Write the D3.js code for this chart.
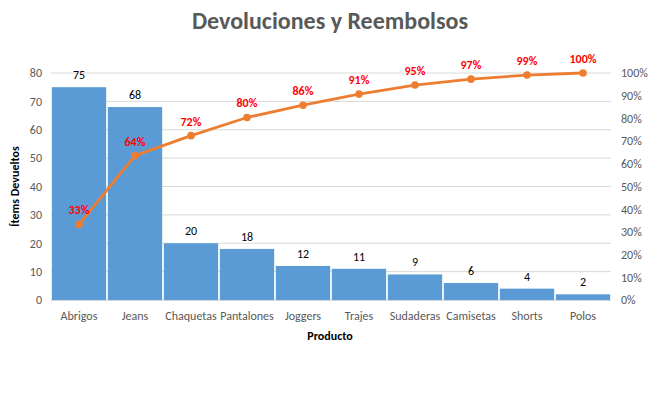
<!DOCTYPE html>
<html>
<head>
<meta charset="utf-8">
<script src="https://cdn.jsdelivr.net/npm/d3@7"></script>
<style>
  body { margin: 0; background: #fff; }
  svg { display: block; font-family: Calibri, Carlito, "Open Sans", "Liberation Sans", sans-serif; }
</style>
</head>
<body>
<div id="chart"></div>
<script>
const productos = ['Abrigos', 'Jeans', 'Chaquetas', 'Pantalones', 'Joggers', 'Trajes', 'Sudaderas', 'Camisetas', 'Shorts', 'Polos']
const devueltos = [75, 68, 20, 18, 12, 11, 9, 6, 4, 2]
const acumulado = [33.3, 63.6, 72.4, 80.4, 85.8, 90.7, 94.7, 97.3, 99.1, 100]
const leftTicks = [0, 10, 20, 30, 40, 50, 60, 70, 80]
const rightTicks = [0, 10, 20, 30, 40, 50, 60, 70, 80, 90, 100]

const width = 657
const height = 396
const margin = { top: 73, right: 46, bottom: 96, left: 51 }
const font = 'Calibri, Carlito, "Open Sans", "Liberation Sans", sans-serif'

const svg = d3.select('#chart').append('svg')
  .attr('width', width).attr('height', height)

const x = d3.scaleBand().domain(productos)
  .range([margin.left, width - margin.right]).paddingInner(0.03).paddingOuter(0.015)
const y = d3.scaleLinear().domain([0, 80]).range([height - margin.bottom, margin.top])
const y2 = d3.scaleLinear().domain([0, 100]).range([height - margin.bottom, margin.top])

// gridlines
svg.append('g').selectAll('line').data(leftTicks.slice(1)).join('line')
  .attr('x1', margin.left).attr('x2', width - margin.right)
  .attr('y1', d => y(d)).attr('y2', d => y(d))
  .attr('stroke', '#d9d9d9').attr('stroke-width', 1)

// bars
svg.append('g').selectAll('rect').data(devueltos).join('rect')
  .attr('x', (d, i) => x(productos[i]))
  .attr('y', d => y(d))
  .attr('width', x.bandwidth())
  .attr('height', d => y(0) - y(d))
  .attr('fill', '#5b9bd5')

// baseline
svg.append('line')
  .attr('x1', margin.left).attr('x2', width - margin.right)
  .attr('y1', y(0) + 0.5).attr('y2', y(0) + 0.5)
  .attr('stroke', '#d9d9d9')

// bar value labels
svg.append('g').selectAll('text').data(devueltos).join('text')
  .attr('x', (d, i) => x(productos[i]) + x.bandwidth() / 2)
  .attr('y', d => y(d) - 8)
  .attr('text-anchor', 'middle')
  .attr('fill', '#000')
  .style('font-size', '12px')
  .text(d => d)

// left axis
const yAxis = svg.append('g').attr('transform', `translate(${margin.left - 9},0)`)
  .call(d3.axisLeft(y).tickValues(leftTicks).tickSize(0).tickPadding(0))
yAxis.select('.domain').remove()
yAxis.selectAll('text').attr('fill', '#595959').style('font-size', '12px').style('font-family', font)

// right axis
const yAxis2 = svg.append('g').attr('transform', `translate(${width - margin.right + 10},0)`)
  .call(d3.axisRight(y2).tickValues(rightTicks).tickFormat(d => d + '%').tickSize(0).tickPadding(0))
yAxis2.select('.domain').remove()
yAxis2.selectAll('text').attr('fill', '#595959').style('font-size', '12px').style('font-family', font)

// x axis
const xAxis = svg.append('g').attr('transform', `translate(0,${y(0) + 11})`)
  .call(d3.axisBottom(x).tickSize(0).tickPadding(0))
xAxis.select('.domain').remove()
xAxis.selectAll('text').attr('fill', '#595959').style('font-size', '12px').style('font-family', font)

// cumulative line
const line = d3.line()
  .x((d, i) => x(productos[i]) + x.bandwidth() / 2)
  .y(d => y2(d))
svg.append('path').datum(acumulado)
  .attr('d', line)
  .attr('fill', 'none')
  .attr('stroke', '#ed7d31')
  .attr('stroke-width', 2.8)
  .attr('stroke-linejoin', 'round')

svg.append('g').selectAll('circle').data(acumulado).join('circle')
  .attr('cx', (d, i) => x(productos[i]) + x.bandwidth() / 2)
  .attr('cy', d => y2(d))
  .attr('r', 3.8)
  .attr('fill', '#ed7d31')

svg.append('g').selectAll('text').data(acumulado).join('text')
  .attr('x', (d, i) => x(productos[i]) + x.bandwidth() / 2)
  .attr('y', d => y2(d) - 10)
  .attr('text-anchor', 'middle')
  .attr('fill', '#ff0000')
  .style('font-size', '12px')
  .style('font-weight', 'bold')
  .text(d => Math.round(d) + '%')

// titles
svg.append('text').attr('x', 330).attr('y', 29)
  .attr('text-anchor', 'middle').attr('fill', '#595959')
  .style('font-size', '24px').style('font-weight', 'bold')
  .text('Devoluciones y Reembolsos')

svg.append('text').attr('x', 330).attr('y', 340)
  .attr('text-anchor', 'middle').attr('fill', '#000')
  .style('font-size', '12px').style('font-weight', 'bold')
  .text('Producto')

svg.append('text')
  .attr('transform', `translate(19,${(margin.top + height - margin.bottom) / 2}) rotate(-90)`)
  .attr('text-anchor', 'middle').attr('fill', '#000')
  .style('font-size', '12px').style('font-weight', 'bold')
  .text('Ítems Devueltos')
</script>
</body>
</html>
